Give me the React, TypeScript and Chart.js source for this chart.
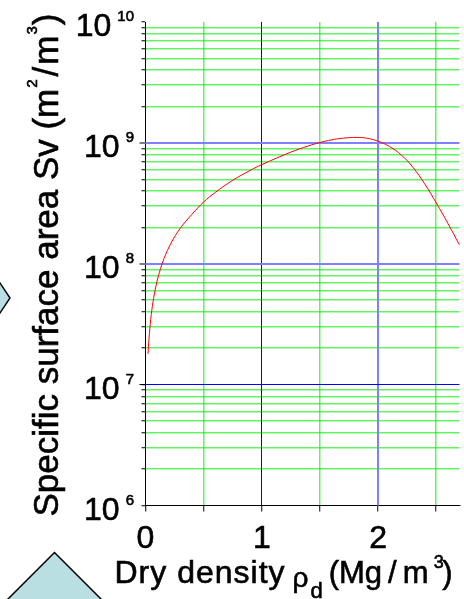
import React, { useEffect, useRef } from "react";
import { Chart, registerables } from "chart.js";

Chart.register(...registerables);

// ---- data ----
const densities = [0.022, 0.03, 0.045, 0.065, 0.09, 0.12, 0.16, 0.22, 0.3, 0.4, 0.5, 0.6, 0.75, 0.9, 1.0, 1.25, 1.4, 1.5, 1.6, 1.7, 1.82, 1.9, 2.0, 2.1, 2.2, 2.3, 2.4, 2.5, 2.6, 2.7];
const surfaceAreas = [1.8e7, 2.39e7, 3.47e7, 4.85e7, 6.55e7, 8.51e7, 1.109e8, 1.483e8, 1.972e8, 2.57e8, 3.24e8, 3.89e8, 4.9e8, 5.92e8, 6.61e8, 8.38e8, 9.44e8, 1.007e9, 1.059e9, 1.094e9, 1.109e9, 1.094e9, 1.033e9, 9.31e8, 7.93e8, 6.27e8, 4.59e8, 3.19e8, 2.16e8, 1.43e8];
const xTickValues = [0, 0.5, 1, 1.5, 2, 2.5];
const xTickLabels = ["0", "", "1", "", "2", ""];
const yDecades = [6, 7, 8, 9, 10];
const yMinorMultipliers = [2, 3, 4, 5, 6, 7, 8, 9];
const xMin = 0;
const xMax = 2.7;

const FONT = '"Liberation Sans", Arial, sans-serif';
const GREEN = "rgba(0,235,0,0.62)";
const BLUE = "#0000ff";
const LIGHT_BLUE = "#8080ff";

type Part = { t: string; size: number; dy?: number; gap?: number; ls?: number };

function fillBold(ctx: CanvasRenderingContext2D, t: string, x: number, y: number) {
  ctx.fillText(t, x, y);
  ctx.strokeText(t, x, y);
}

function drawParts(ctx: CanvasRenderingContext2D, x0: number, y0: number, parts: Part[]) {
  let cx = x0;
  for (const p of parts) {
    cx += p.gap || 0;
    ctx.font = `${p.size}px ${FONT}`;
    (ctx as any).letterSpacing = `${p.ls || 0}px`;
    fillBold(ctx, p.t, cx, y0 + (p.dy || 0));
    cx += ctx.measureText(p.t).width;
  }
  (ctx as any).letterSpacing = "0px";
}

const isMajor = (v: number) => {
  const l = Math.log10(v);
  return Math.abs(l - Math.round(l)) < 1e-9;
};

const decorPlugin = {
  id: "decor",
  beforeDraw(chart: any) {
    const ctx = chart.ctx as CanvasRenderingContext2D;
    ctx.save();
    ctx.fillStyle = "#b9dfe2";
    ctx.strokeStyle = "#000";
    ctx.lineWidth = 1.5;
    ctx.beginPath();
    ctx.moveTo(-40, 223);
    ctx.lineTo(10, 298);
    ctx.lineTo(-40, 373);
    ctx.closePath();
    ctx.fill();
    ctx.stroke();
    ctx.beginPath();
    ctx.moveTo(54.5, 552.5);
    ctx.lineTo(120, 618);
    ctx.lineTo(54.5, 683);
    ctx.lineTo(-11, 618);
    ctx.closePath();
    ctx.fill();
    ctx.stroke();
    ctx.restore();
  },
};

const majorLinesPlugin = {
  id: "majorLines",
  beforeDatasetsDraw(chart: any) {
    const ctx = chart.ctx as CanvasRenderingContext2D;
    const { left, right, top, bottom } = chart.chartArea;
    const xs = chart.scales.x;
    const ys = chart.scales.y;
    ctx.save();
    const hLine = (v: number, color: string, w: number, tickColor: string) => {
      const p = ys.getPixelForValue(v);
      const y = w === 2 ? Math.round(p) : Math.floor(p) + 0.5;
      ctx.strokeStyle = color;
      ctx.lineWidth = w;
      ctx.beginPath();
      ctx.moveTo(left, y);
      ctx.lineTo(right, y);
      ctx.stroke();
      ctx.strokeStyle = tickColor;
      ctx.beginPath();
      ctx.moveTo(left - 6, y);
      ctx.lineTo(left, y);
      ctx.stroke();
    };
    const vLine = (v: number, color: string, w: number) => {
      const p = xs.getPixelForValue(v);
      const x = w === 2 ? Math.round(p) : Math.floor(p) + 0.5;
      ctx.strokeStyle = color;
      ctx.lineWidth = w;
      ctx.beginPath();
      ctx.moveTo(x, top);
      ctx.lineTo(x, bottom);
      ctx.stroke();
    };
    vLine(1, BLUE, 1);
    vLine(2, LIGHT_BLUE, 2);
    hLine(1e9, LIGHT_BLUE, 2, "#808080");
    hLine(1e8, LIGHT_BLUE, 2, "#808080");
    hLine(1e7, BLUE, 1, "#000");
    ctx.restore();
  },
};

const textPlugin = {
  id: "texts",
  afterDraw(chart: any) {
    const ctx = chart.ctx as CanvasRenderingContext2D;
    const { left, bottom } = chart.chartArea;
    const xs = chart.scales.x;
    const ys = chart.scales.y;
    ctx.save();
    ctx.fillStyle = "#000";
    ctx.strokeStyle = "#000";
    ctx.lineWidth = 0.6;
    ctx.textBaseline = "alphabetic";

    // y tick labels: 10^n
    yDecades.forEach((d) => {
      const py = ys.getPixelForValue(Math.pow(10, d));
      const exp = String(d);
      const expRight = left - 11.5;
      ctx.textAlign = "right";
      ctx.font = `15px ${FONT}`;
      fillBold(ctx, exp, expRight, py - 1);
      const ew = ctx.measureText(exp).width;
      ctx.font = `32px ${FONT}`;
      fillBold(ctx, "10", expRight - ew - 6, py + 14);
    });

    // x tick labels
    ctx.textAlign = "center";
    ctx.font = `32px ${FONT}`;
    xTickValues.forEach((v, i) => {
      if (xTickLabels[i]) fillBold(ctx, xTickLabels[i], xs.getPixelForValue(v), bottom + 42);
    });

    // x title
    ctx.textAlign = "left";
    drawParts(ctx, 114.5, 583, [
      { t: "Dry density", size: 32, ls: 1 },
      { t: "ρ", size: 28, dy: 4, gap: 7 },
      { t: "d", size: 22, dy: 15, gap: 2 },
      { t: "(", size: 31, gap: 6 },
      { t: "Mg", size: 31 },
      { t: "/", size: 31, gap: 5.9 },
      { t: "m", size: 31, gap: 6.2 },
      { t: "3", size: 18, dy: -15, gap: 5.2 },
      { t: ")", size: 31, gap: -1.5 },
    ]);

    // y title (rotated)
    ctx.save();
    ctx.translate(58, 516.6);
    ctx.rotate(-Math.PI / 2);
    drawParts(ctx, 0, 0, [
      { t: "Specific surface area Sv", size: 35 },
      { t: "(", size: 35, gap: 9.6 },
      { t: "m", size: 35 },
      { t: "2", size: 15, dy: -21, gap: 1 },
      { t: "/", size: 35, gap: 3 },
      { t: "m", size: 35, gap: 2 },
      { t: "3", size: 15, dy: -21, gap: 1 },
      { t: ")", size: 35, gap: 1 },
    ]);
    ctx.restore();
    ctx.restore();
  },
};

export default function App() {
  const ref = useRef<HTMLCanvasElement | null>(null);

  useEffect(() => {
    if (!ref.current) return;
    const points = densities.map((x, i) => ({ x, y: surfaceAreas[i] }));
    const chart = new Chart(ref.current, {
      type: "line",
      data: {
        datasets: [
          {
            data: points,
            borderColor: "#ff0000",
            borderWidth: 1,
            pointRadius: 0,
            fill: false,
            tension: 0.4,
          },
        ],
      },
      options: {
        responsive: false,
        animation: false,
        events: [],
        layout: { padding: { top: 22, right: 4.5, bottom: 0, left: 0 } },
        plugins: { legend: { display: false }, tooltip: { enabled: false } },
        scales: {
          x: {
            type: "linear",
            min: xMin,
            max: xMax,
            afterBuildTicks: (s: any) => {
              s.ticks = xTickValues.map((v) => ({ value: v }));
            },
            afterFit: (s: any) => {
              s.height = 93.5;
            },
            ticks: { display: false },
            grid: {
              color: (c: any) => {
                const v = c.tick ? c.tick.value : 0;
                return Math.abs(v - Math.round(v)) > 1e-9 ? GREEN : "rgba(0,0,0,0)";
              },
              lineWidth: 1.5,
              tickLength: 6,
              tickColor: "#000",
              tickWidth: 1,
            },
            border: { display: true, color: "#000", width: 1 },
          },
          y: {
            type: "logarithmic",
            min: Math.pow(10, yDecades[0]),
            max: Math.pow(10, yDecades[yDecades.length - 1]),
            afterBuildTicks: (s: any) => {
              const t: { value: number }[] = [];
              for (let i = 0; i < yDecades.length; i++) {
                const base = Math.pow(10, yDecades[i]);
                t.push({ value: base });
                if (i < yDecades.length - 1) yMinorMultipliers.forEach((m) => t.push({ value: m * base }));
              }
              s.ticks = t;
            },
            afterFit: (s: any) => {
              s.width = 145.5;
            },
            ticks: { display: false },
            grid: {
              color: (c: any) => (c.tick && !isMajor(c.tick.value) ? GREEN : "rgba(0,0,0,0)"),
              lineWidth: 1.5,
              tickLength: 4,
              tickColor: "#000",
              tickWidth: 1,
            },
            border: { display: true, color: "#000", width: 1 },
          },
        },
      },
      plugins: [decorPlugin, majorLinesPlugin, textPlugin],
    } as any);
    return () => chart.destroy();
  }, []);

  return (
    <canvas
      ref={ref}
      width={464}
      height={599}
      style={{ position: "absolute", left: 0, top: 0, width: 464, height: 599, display: "block" }}
    />
  );
}
